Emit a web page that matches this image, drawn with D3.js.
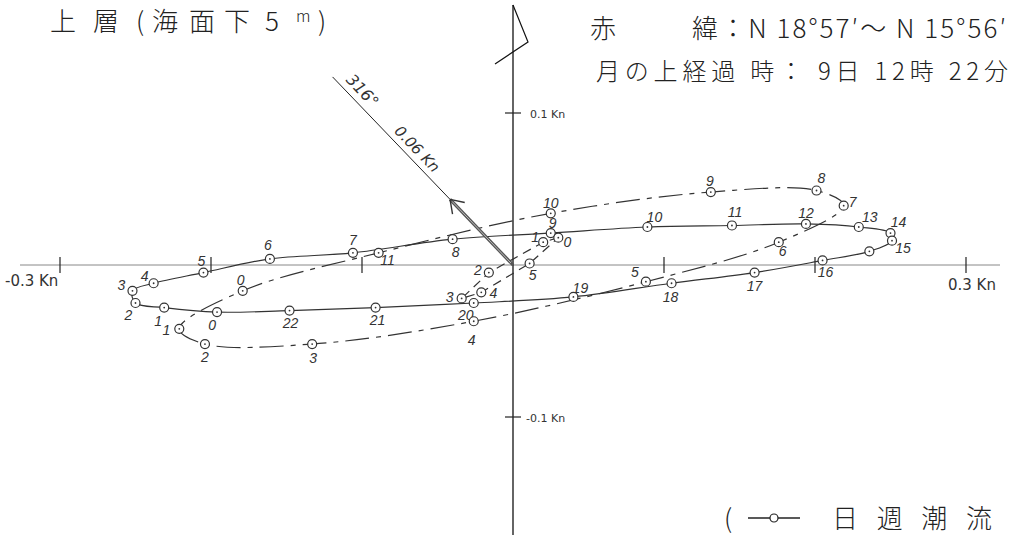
<!DOCTYPE html>
<html>
<head>
<meta charset="utf-8">
<script src="https://cdn.jsdelivr.net/npm/d3@7"></script>
<style>
  body { margin: 0; background: #fff; }
  svg text { font-family: "Noto Sans CJK JP", "DejaVu Sans", sans-serif; fill: #222; }
  .hr { font-family: "Liberation Sans", sans-serif; font-style: italic; font-size: 14px; fill: #333; }
  .ax { font-family: "DejaVu Sans", sans-serif; fill: #333; }
</style>
</head>
<body>
<svg id="chart" width="1014" height="535"></svg>
<script>
// hourly current vectors (Kn), east (u) / north (v)
// solid ellipse, hours 0..22
var hoursA = ["0","1","2","3","4","5","6","7","8","9","10","11","12","13","14","15","","16","17","18","19","20","21","22"];
var uA = [-0.196,-0.231,-0.250,-0.252,-0.238,-0.205,-0.161,-0.106,-0.040,0.025,0.089,0.145,0.194,0.229,0.250,0.251,0.236,0.205,0.160,0.105,0.040,-0.026,-0.091,-0.148];
var vA = [-0.031,-0.028,-0.025,-0.017,-0.012,-0.005,0.004,0.008,0.017,0.021,0.025,0.026,0.027,0.025,0.021,0.016,0.009,0.003,-0.005,-0.012,-0.021,-0.025,-0.028,-0.030];

// dash-dot ellipse, hours 0..11
var hoursB = ["0","1","2","3","4","5","6","7","8","9","10","11"];
var uB = [-0.179,-0.221,-0.204,-0.133,-0.026,0.088,0.176,0.219,0.201,0.131,0.025,-0.089];
var vB = [-0.017,-0.042,-0.052,-0.052,-0.037,-0.011,0.015,0.039,0.049,0.048,0.034,0.008];

// dashed small ellipse, hours 0..5
var hoursC = ["0","1","2","3","4","5"];
var uC = [0.030,0.020,-0.016,-0.034,-0.021,0.011];
var vC = [0.018,0.015,-0.005,-0.022,-0.018,0.001];

// mean current
var meanDir = 316, meanSpeed = 0.06;

var xTicks = [-0.3,-0.2,-0.1,0.1,0.2,0.3];
var yTicks = [0.1,-0.1];

var svg = d3.select("#chart");
var x = d3.scaleLinear().domain([-0.3, 0.3]).range([60, 966]);
var y = d3.scaleLinear().domain([-0.1, 0.1]).range([417, 113]);
var x0 = x(0), y0 = y(0);

// axes
svg.append("line").attr("x1", 20).attr("x2", 1000).attr("y1", y0).attr("y2", y0)
  .attr("stroke", "#888").attr("stroke-width", 1);
svg.selectAll(".xt").data(xTicks).enter().append("line")
  .attr("x1", function(d){ return x(d); }).attr("x2", function(d){ return x(d); })
  .attr("y1", y0 - 8).attr("y2", y0 + 8)
  .attr("stroke", "#222").attr("stroke-width", 1.2);
svg.append("line").attr("x1", x0).attr("x2", x0).attr("y1", 5).attr("y2", 535)
  .attr("stroke", "#111").attr("stroke-width", 1.3);
svg.selectAll(".yt").data(yTicks).enter().append("line")
  .attr("x1", x0 - 8).attr("x2", x0 + 8)
  .attr("y1", function(d){ return y(d); }).attr("y2", function(d){ return y(d); })
  .attr("stroke", "#222").attr("stroke-width", 1.2);
// north arrow
svg.append("polyline").attr("points", [[x0, 5], [x0 + 15, 42], [x0 - 18, 64]].join(" "))
  .attr("fill", "none").attr("stroke", "#111").attr("stroke-width", 1.2);

svg.append("text").attr("class", "ax").attr("x", x(-0.3) - 55).attr("y", y0 + 21)
  .attr("font-size", 15).text("-0.3 Kn");
svg.append("text").attr("class", "ax").attr("x", x(0.3) - 18).attr("y", y0 + 25)
  .attr("font-size", 15).text("0.3 Kn");
svg.append("text").attr("class", "ax").attr("x", x0 + 17).attr("y", y(0.1) + 5)
  .attr("font-size", 11).text("0.1 Kn");
svg.append("text").attr("class", "ax").attr("x", x0 + 13).attr("y", y(-0.1) + 5)
  .attr("font-size", 11).text("-0.1 Kn");

// ellipses
function pts(u, v) { return u.map(function(d, i){ return [d, v[i]]; }); }
var smoothLine = d3.line().x(function(d){ return x(d[0]); }).y(function(d){ return y(d[1]); })
  .curve(d3.curveCatmullRomClosed.alpha(0.5));
var straightLine = d3.line().x(function(d){ return x(d[0]); }).y(function(d){ return y(d[1]); })
  .curve(d3.curveLinearClosed);

var series = [
  { p: pts(uA, vA), h: hoursA, gen: smoothLine, dash: null,
    off: [[-5,13],[-6,13],[-7,12],[-11,-6],[-9,-7],[-2,-12],[-2,-14],[0,-13],[3,13],[2,-10],[7,-10],[3,-13],[0,-11],[11,-10],[8,-11],[11,7],[0,0],[3,12],[0,13],[-1,14],[7,-9],[-8,12],[2,12],[1,12]] },
  { p: pts(uB, vB), h: hoursB, gen: smoothLine, dash: "24,7,5,7",
    off: [[-2,-11],[-13,1],[0,13],[1,14],[-2,19],[-11,-10],[4,9],[9,-4],[5,-13],[-1,-11],[0,-10],[9,7]] },
  { p: pts(uC, vC), h: hoursC, gen: straightLine, dash: "9,6",
    off: [[9,4],[-8,-5],[-11,-3],[-12,-1],[12,1],[3,12]] }
];

series.forEach(function(s) {
  svg.append("path").attr("d", s.gen(s.p)).attr("fill", "none")
    .attr("stroke", "#333").attr("stroke-width", 1.2)
    .attr("stroke-dasharray", s.dash);
});

// mean current arrow
var rad = meanDir * Math.PI / 180;
var tip = [x(meanSpeed * Math.sin(rad)), y(meanSpeed * Math.cos(rad))];
var far = [x(0.172 * Math.sin(rad)), y(0.172 * Math.cos(rad))];
svg.append("line").attr("x1", tip[0]).attr("y1", tip[1]).attr("x2", far[0]).attr("y2", far[1])
  .attr("stroke", "#222").attr("stroke-width", 1);
svg.append("line").attr("x1", x0).attr("y1", y0).attr("x2", tip[0]).attr("y2", tip[1])
  .attr("stroke", "#555").attr("stroke-width", 3.2);
svg.append("line").attr("x1", x0 - 2).attr("y1", y0 - 2).attr("x2", tip[0] + 2).attr("y2", tip[1] + 2)
  .attr("stroke", "#bbb").attr("stroke-width", 1);
var back = Math.atan2(y0 - tip[1], x0 - tip[0]);
[-0.6, 0.6].forEach(function(a) {
  svg.append("line").attr("x1", tip[0]).attr("y1", tip[1])
    .attr("x2", tip[0] + 15 * Math.cos(back + a)).attr("y2", tip[1] + 15 * Math.sin(back + a))
    .attr("stroke", "#333").attr("stroke-width", 1.4);
});
var ang = Math.atan2(y0 - far[1], x0 - far[0]) * 180 / Math.PI;
function alongText(dist, perp, txt, size) {
  var ux = Math.cos(ang * Math.PI / 180), uy = Math.sin(ang * Math.PI / 180);
  var px = x0 - ux * dist + uy * perp, py = y0 - uy * dist - ux * perp;
  svg.append("text").attr("class", "ax")
    .attr("transform", "translate(" + px + "," + py + ") rotate(" + ang + ")")
    .attr("text-anchor", "middle").attr("dominant-baseline", "central")
    .attr("font-size", size).attr("font-style", "italic").text(txt);
}
alongText(230, 12, "316°", 16);
alongText(150, 11, "0.06 Kn", 15);

// markers + hour labels
series.forEach(function(s) {
  var g = svg.append("g");
  g.selectAll("circle.m").data(s.p).enter().append("circle")
    .attr("cx", function(d){ return x(d[0]); }).attr("cy", function(d){ return y(d[1]); })
    .attr("r", 4.5).attr("fill", "#fff").attr("stroke", "#333").attr("stroke-width", 1.2);
  g.selectAll("circle.c").data(s.p).enter().append("circle")
    .attr("cx", function(d){ return x(d[0]); }).attr("cy", function(d){ return y(d[1]); })
    .attr("r", 0.9).attr("fill", "#333");
  g.selectAll("text").data(s.p).enter().append("text").attr("class", "hr")
    .attr("x", function(d, i){ return x(d[0]) + s.off[i][0]; })
    .attr("y", function(d, i){ return y(d[1]) + s.off[i][1]; })
    .attr("text-anchor", "middle").attr("dominant-baseline", "central")
    .text(function(d, i){ return s.h[i]; });
});

// titles
var t = svg.append("text").attr("x", 50).attr("y", 31).attr("font-size", 26).attr("font-weight", 300);
t.append("tspan").text("上");
t.append("tspan").attr("x", 93).text("層");
t.append("tspan").attr("x", 136).text("(");
t.append("tspan").attr("x", 152).text("海");
t.append("tspan").attr("x", 189).text("面");
t.append("tspan").attr("x", 224).text("下");
t.append("tspan").attr("x", 265).text("5");
t.append("tspan").attr("x", 296).attr("y", 22).attr("font-size", 16).text("m");
t.append("tspan").attr("x", 318).attr("y", 31).text(")");

svg.append("text").attr("x", 590).attr("y", 38).attr("font-size", 26).attr("font-weight", 300).text("赤");
svg.append("text").attr("x", 692).attr("y", 38).attr("font-size", 26).attr("font-weight", 300)
  .attr("textLength", 314).attr("lengthAdjust", "spacing").text("緯：N 18°57′～ N 15°56′");
svg.append("text").attr("x", 596).attr("y", 80).attr("font-size", 24).attr("font-weight", 300)
  .attr("textLength", 412).attr("lengthAdjust", "spacing").text("月の上経過 時： 9日 12時 22分");

// legend
var lg = svg.append("g");
lg.append("text").attr("x", 724).attr("y", 528).attr("font-size", 26).attr("font-weight", 300).text("(");
lg.append("line").attr("x1", 748).attr("x2", 800).attr("y1", 518).attr("y2", 518)
  .attr("stroke", "#222").attr("stroke-width", 1.5);
lg.append("circle").attr("cx", 774).attr("cy", 518).attr("r", 4).attr("fill", "#fff")
  .attr("stroke", "#222").attr("stroke-width", 1.2);
lg.append("text").attr("x", 832).attr("y", 528).attr("font-size", 26).attr("font-weight", 300)
  .attr("textLength", 160).attr("lengthAdjust", "spacing").text("日週潮流");
</script>
</body>
</html>
